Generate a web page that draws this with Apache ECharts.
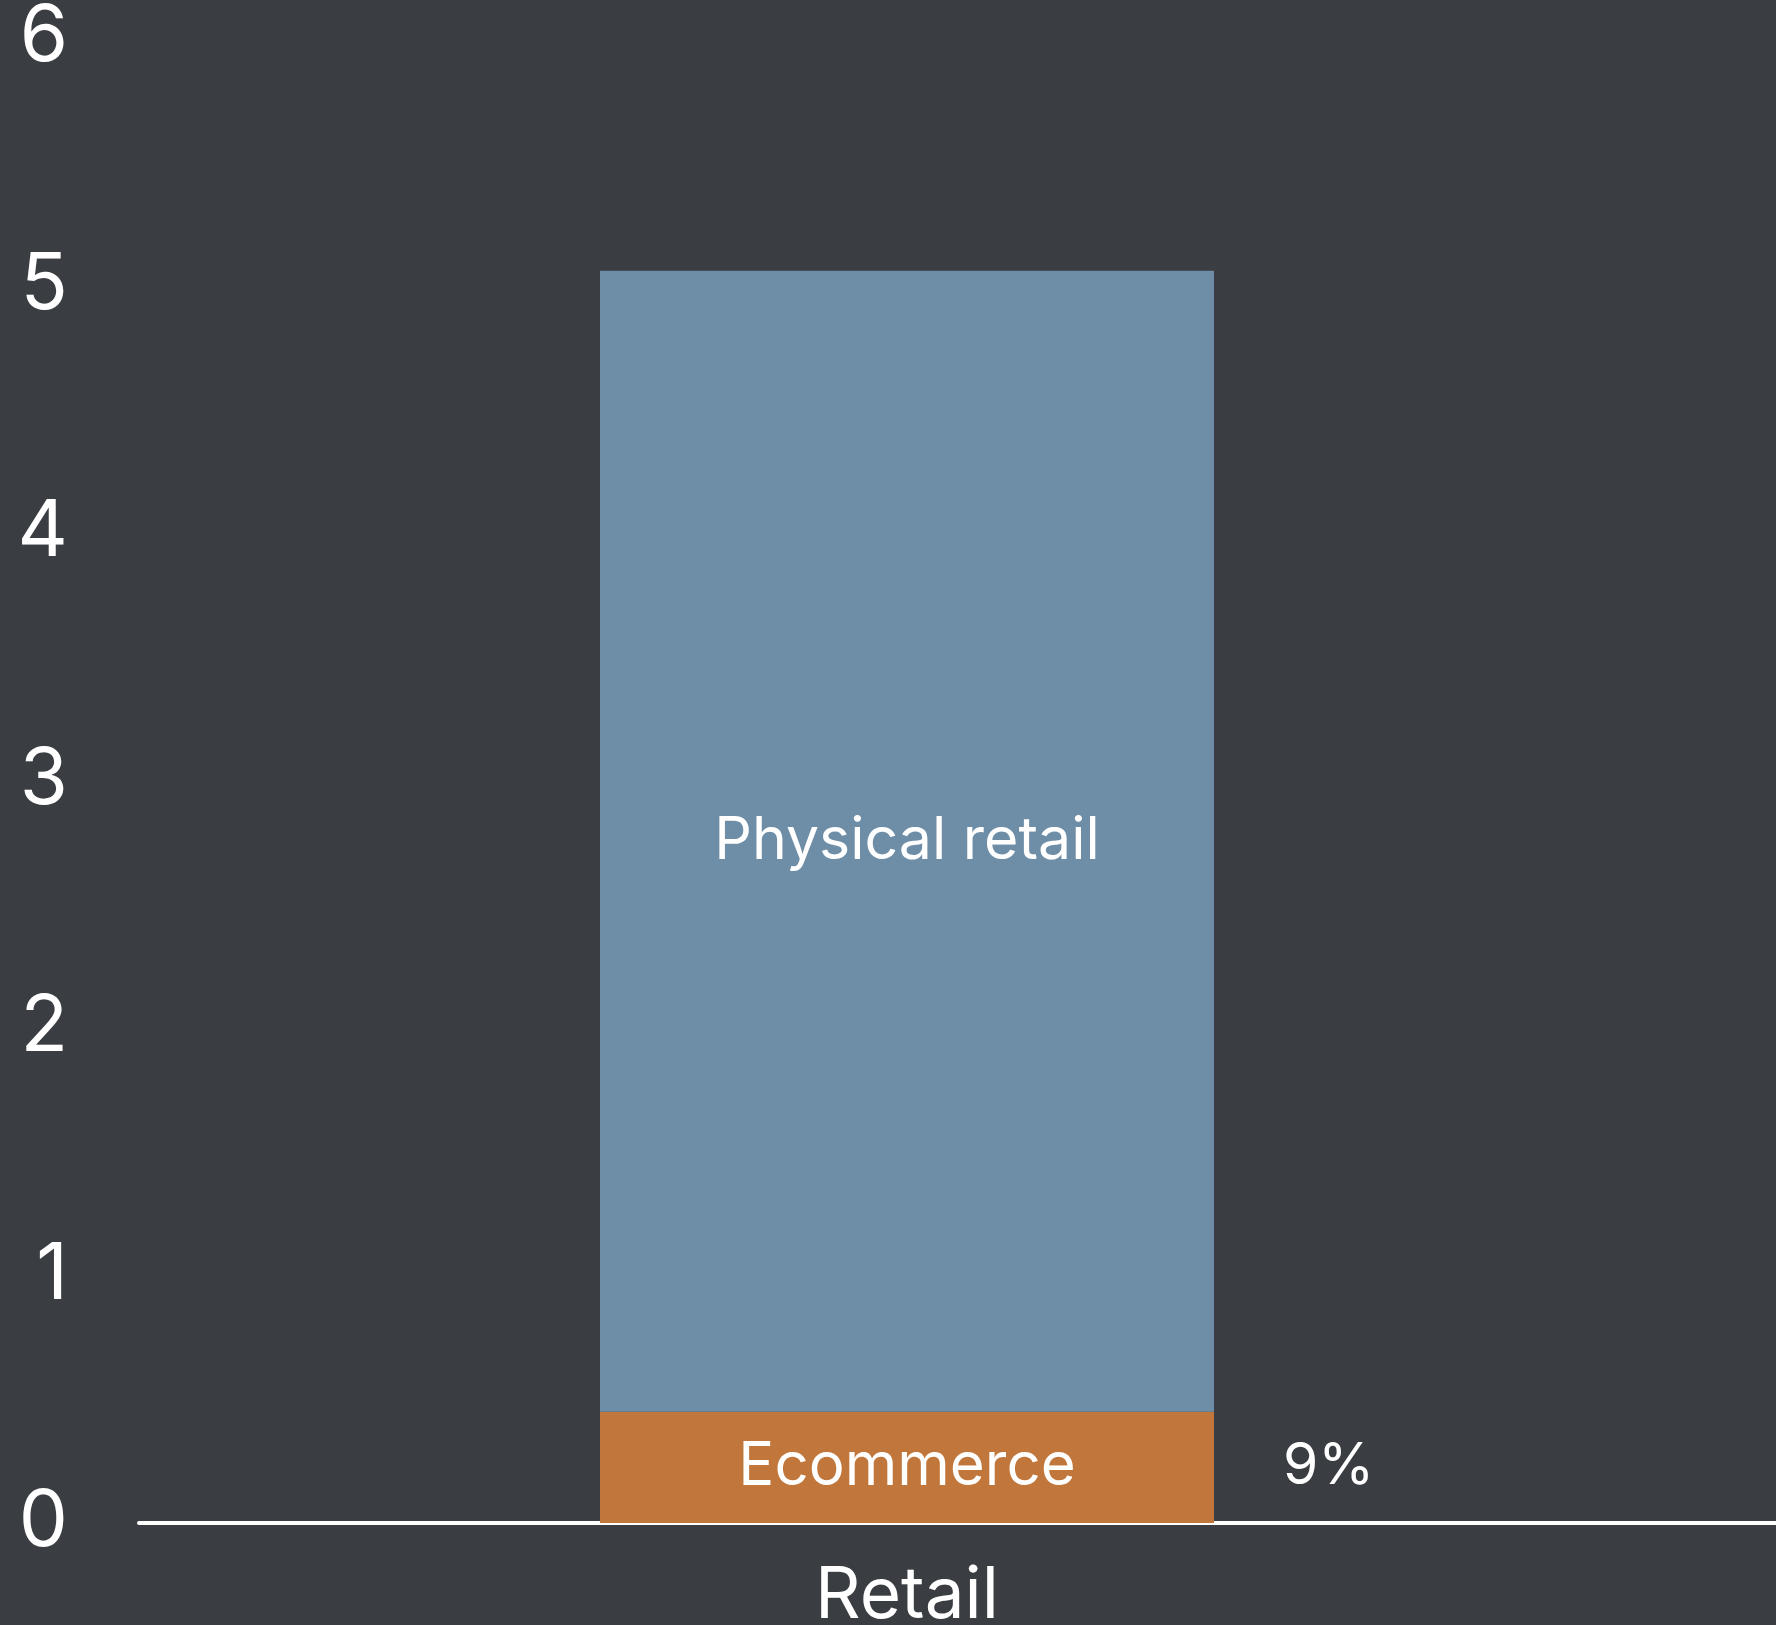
<!DOCTYPE html>
<html>
<head>
<meta charset="utf-8">
<script src="https://cdn.jsdelivr.net/npm/echarts@6/dist/echarts.min.js"></script>
<style>
html,body{margin:0;padding:0;background:#3a3d42;}
#c{width:1776px;height:1625px;}
</style>
</head>
<body>
<div id="c"></div>
<script>
const categories = ['Retail'];
const ecommerce = [0.45];
const physical = [4.61];
const shareLabel = '9%';
const yTicks = [0, 1, 2, 3, 4, 5, 6];

const FONT = 'Inter';
const chart = echarts.init(document.getElementById('c'), null, {renderer: 'canvas'});
chart.setOption({
  backgroundColor: '#3a3d42',
  animation: false,
  grid: [
    {left: 139, right: 101, top: 38, bottom: 102, containLabel: false, outerBoundsMode: 'none'},
    {left: 139, right: 0, top: 38, bottom: 102, containLabel: false, outerBoundsMode: 'none'}
  ],
  xAxis: [
    {
      type: 'category', gridIndex: 0, data: categories,
      axisLine: {show: false}, axisTick: {show: false},
      axisLabel: {color: '#ffffff', fontFamily: FONT, fontSize: 71, margin: 38}
    },
    {
      type: 'category', gridIndex: 1, data: categories,
      axisLine: {show: true, lineStyle: {color: '#ffffff', width: 4}},
      axisTick: {show: false}, axisLabel: {show: false}
    }
  ],
  yAxis: [
    {
      type: 'value', gridIndex: 0, min: yTicks[0], max: yTicks[yTicks.length - 1], interval: 1,
      axisLine: {show: false}, axisTick: {show: false}, splitLine: {show: false},
      axisLabel: {color: '#ffffff', fontFamily: FONT, fontSize: 78, margin: 71}
    },
    {
      type: 'value', gridIndex: 1, min: 0, max: 6, interval: 1, show: false
    }
  ],
  series: [
    {
      name: 'Ecommerce', type: 'bar', stack: 'total', xAxisIndex: 0, yAxisIndex: 0,
      data: ecommerce, barWidth: 614, z: 3,
      itemStyle: {color: '#c1773b'},
      label: {show: true, position: 'inside', formatter: 'Ecommerce', color: '#ffffff', fontFamily: FONT, fontSize: 60},
      markPoint: {
        symbol: 'circle', symbolSize: 0,
        data: [{coord: [0, ecommerce[0] / 2], value: shareLabel}],
        label: {show: true, position: 'right', distance: 376, formatter: shareLabel, color: '#ffffff', fontFamily: FONT, fontSize: 57}
      }
    },
    {
      name: 'Physical retail', type: 'bar', stack: 'total', xAxisIndex: 0, yAxisIndex: 0,
      data: physical, barWidth: 614, z: 3,
      itemStyle: {color: '#6e8da6'},
      label: {show: true, position: 'inside', formatter: 'Physical retail', color: '#ffffff', fontFamily: FONT, fontSize: 59}
    }
  ]
});
</script>
</body>
</html>
